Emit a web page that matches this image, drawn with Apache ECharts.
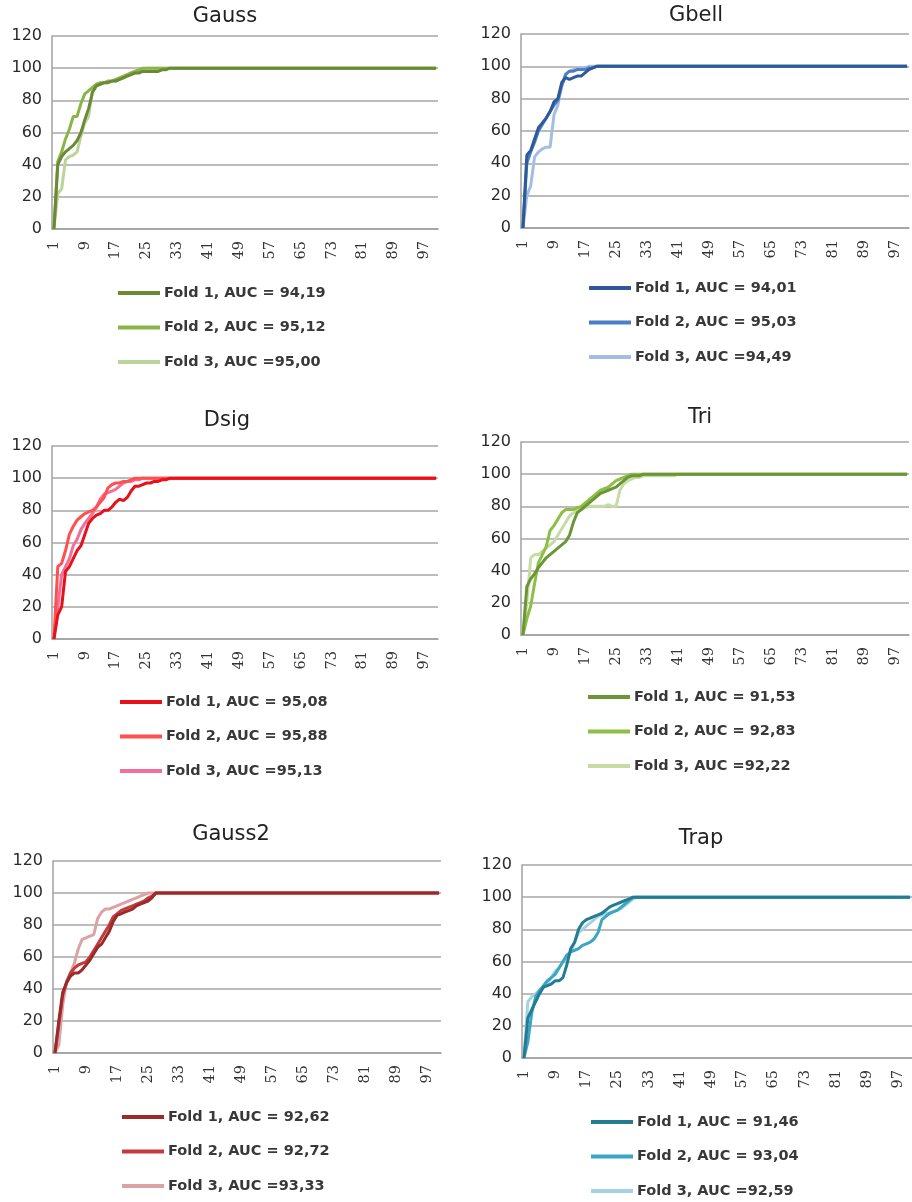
<!DOCTYPE html>
<html>
<head>
<meta charset="utf-8">
<script src="https://cdn.jsdelivr.net/npm/echarts@6/dist/echarts.min.js"></script>
<style>
html,body{margin:0;padding:0;background:#fff;}
#c{width:912px;height:1202px;}
</style>
</head>
<body>
<div id="c"></div>
<script>
// ---------- DATA ----------
var categories = [1,2,3,4,5,6,7,8,9,10,11,12,13,14,15,16,17,18,19,20,21,22,23,24,25,26,27,28,29,30,31,32,33,34,35,36,37,38,39,40,41,42,43,44,45,46,47,48,49,50,51,52,53,54,55,56,57,58,59,60,61,62,63,64,65,66,67,68,69,70,71,72,73,74,75,76,77,78,79,80,81,82,83,84,85,86,87,88,89,90,91,92,93,94,95,96,97,98,99,100];
var yTicks = [0,20,40,60,80,100,120];
var panelTitles = ['Gauss','Gbell','Dsig','Tri','Gauss2','Trap'];

var gaussNames = ['Fold 1, AUC = 94,19','Fold 2, AUC = 95,12','Fold 3, AUC =95,00'];
var gaussFold1 = [0,40,45,48,50,52,55,60,68,75, 85,89,90,91,91,92,92,93,94,95, 96,97,97,98,98,98,98,98,99,99, 100,100,100,100,100,100,100,100,100,100, 100,100,100,100,100,100,100,100,100,100, 100,100,100,100,100,100,100,100,100,100, 100,100,100,100,100,100,100,100,100,100, 100,100,100,100,100,100,100,100,100,100, 100,100,100,100,100,100,100,100,100,100, 100,100,100,100,100,100,100,100,100,100];
var gaussFold2 = [0,42,48,56,62,70,70,78,84,86, 88,90,91,91,92,92,93,94,95,96, 97,98,99,100,100,100,100,100,100,100, 100,100,100,100,100,100,100,100,100,100, 100,100,100,100,100,100,100,100,100,100, 100,100,100,100,100,100,100,100,100,100, 100,100,100,100,100,100,100,100,100,100, 100,100,100,100,100,100,100,100,100,100, 100,100,100,100,100,100,100,100,100,100, 100,100,100,100,100,100,100,100,100,100];
var gaussFold3 = [0,22,25,43,45,46,48,58,66,70, 87,89,90,91,91,92,92,93,94,96, 97,98,99,99,100,100,100,100,100,100, 100,100,100,100,100,100,100,100,100,100, 100,100,100,100,100,100,100,100,100,100, 100,100,100,100,100,100,100,100,100,100, 100,100,100,100,100,100,100,100,100,100, 100,100,100,100,100,100,100,100,100,100, 100,100,100,100,100,100,100,100,100,100, 100,100,100,100,100,100,100,100,100,100];

var gbellNames = ['Fold 1, AUC = 94,01','Fold 2, AUC = 95,03','Fold 3, AUC =94,49'];
var gbellFold1 = [0,45,48,55,62,65,68,72,78,80, 90,93,92,93,94,94,96,98,99,100, 100,100,100,100,100,100,100,100,100,100, 100,100,100,100,100,100,100,100,100,100, 100,100,100,100,100,100,100,100,100,100, 100,100,100,100,100,100,100,100,100,100, 100,100,100,100,100,100,100,100,100,100, 100,100,100,100,100,100,100,100,100,100, 100,100,100,100,100,100,100,100,100,100, 100,100,100,100,100,100,100,100,100,100];
var gbellFold2 = [0,40,47,53,60,64,68,72,76,79, 88,95,97,97,98,98,98,99,99,100, 100,100,100,100,100,100,100,100,100,100, 100,100,100,100,100,100,100,100,100,100, 100,100,100,100,100,100,100,100,100,100, 100,100,100,100,100,100,100,100,100,100, 100,100,100,100,100,100,100,100,100,100, 100,100,100,100,100,100,100,100,100,100, 100,100,100,100,100,100,100,100,100,100, 100,100,100,100,100,100,100,100,100,100];
var gbellFold3 = [0,20,26,44,47,49,50,50,70,76, 88,95,97,98,98,99,99,100,100,100, 100,100,100,100,100,100,100,100,100,100, 100,100,100,100,100,100,100,100,100,100, 100,100,100,100,100,100,100,100,100,100, 100,100,100,100,100,100,100,100,100,100, 100,100,100,100,100,100,100,100,100,100, 100,100,100,100,100,100,100,100,100,100, 100,100,100,100,100,100,100,100,100,100, 100,100,100,100,100,100,100,100,100,100];

var dsigNames = ['Fold 1, AUC = 95,08','Fold 2, AUC = 95,88','Fold 3, AUC =95,13'];
var dsigFold1 = [0,15,20,42,45,50,55,58,65,72, 75,77,78,80,80,82,85,87,86,88, 92,95,95,96,97,97,98,98,99,99, 100,100,100,100,100,100,100,100,100,100, 100,100,100,100,100,100,100,100,100,100, 100,100,100,100,100,100,100,100,100,100, 100,100,100,100,100,100,100,100,100,100, 100,100,100,100,100,100,100,100,100,100, 100,100,100,100,100,100,100,100,100,100, 100,100,100,100,100,100,100,100,100,100];
var dsigFold2 = [0,45,47,55,65,70,74,76,78,79, 80,82,85,88,94,96,97,97,98,98, 99,100,100,100,100,100,100,100,100,100, 100,100,100,100,100,100,100,100,100,100, 100,100,100,100,100,100,100,100,100,100, 100,100,100,100,100,100,100,100,100,100, 100,100,100,100,100,100,100,100,100,100, 100,100,100,100,100,100,100,100,100,100, 100,100,100,100,100,100,100,100,100,100, 100,100,100,100,100,100,100,100,100,100];
var dsigFold3 = [0,20,40,45,50,58,62,68,72,75, 78,82,87,90,91,92,93,95,97,98, 98,99,99,100,100,100,100,100,100,100, 100,100,100,100,100,100,100,100,100,100, 100,100,100,100,100,100,100,100,100,100, 100,100,100,100,100,100,100,100,100,100, 100,100,100,100,100,100,100,100,100,100, 100,100,100,100,100,100,100,100,100,100, 100,100,100,100,100,100,100,100,100,100, 100,100,100,100,100,100,100,100,100,100];

var triNames = ['Fold 1, AUC = 91,53','Fold 2, AUC = 92,83','Fold 3, AUC =92,22'];
var triFold1 = [0,30,35,38,42,45,48,50,52,54, 56,58,62,70,76,78,80,82,84,86, 88,89,90,91,92,94,96,98,99,99, 99,100,100,100,100,100,100,100,100,100, 100,100,100,100,100,100,100,100,100,100, 100,100,100,100,100,100,100,100,100,100, 100,100,100,100,100,100,100,100,100,100, 100,100,100,100,100,100,100,100,100,100, 100,100,100,100,100,100,100,100,100,100, 100,100,100,100,100,100,100,100,100,100];
var triFold2 = [0,10,18,32,45,50,55,65,68,72, 76,78,78,78,79,80,82,84,86,88, 90,91,92,94,96,97,98,99,100,100, 100,100,100,100,100,100,100,100,100,100, 100,100,100,100,100,100,100,100,100,100, 100,100,100,100,100,100,100,100,100,100, 100,100,100,100,100,100,100,100,100,100, 100,100,100,100,100,100,100,100,100,100, 100,100,100,100,100,100,100,100,100,100, 100,100,100,100,100,100,100,100,100,100];
var triFold3 = [0,20,48,50,50,52,54,56,58,62, 66,70,74,76,77,78,79,80,80,80, 80,80,81,80,80,90,94,96,97,98, 98,99,99,99,99,99,99,99,99,99, 100,100,100,100,100,100,100,100,100,100, 100,100,100,100,100,100,100,100,100,100, 100,100,100,100,100,100,100,100,100,100, 100,100,100,100,100,100,100,100,100,100, 100,100,100,100,100,100,100,100,100,100, 100,100,100,100,100,100,100,100,100,100];

var gauss2Names = ['Fold 1, AUC = 92,62','Fold 2, AUC = 92,72','Fold 3, AUC =93,33'];
var gauss2Fold1 = [0,20,38,44,48,50,50,52,55,58, 62,66,68,72,76,82,86,87,88,89, 90,92,93,94,95,97,100,100,100,100, 100,100,100,100,100,100,100,100,100,100, 100,100,100,100,100,100,100,100,100,100, 100,100,100,100,100,100,100,100,100,100, 100,100,100,100,100,100,100,100,100,100, 100,100,100,100,100,100,100,100,100,100, 100,100,100,100,100,100,100,100,100,100, 100,100,100,100,100,100,100,100,100,100];
var gauss2Fold2 = [0,18,36,44,50,53,55,56,57,60, 64,68,72,76,80,85,87,89,90,91, 92,93,94,95,97,98,100,100,100,100, 100,100,100,100,100,100,100,100,100,100, 100,100,100,100,100,100,100,100,100,100, 100,100,100,100,100,100,100,100,100,100, 100,100,100,100,100,100,100,100,100,100, 100,100,100,100,100,100,100,100,100,100, 100,100,100,100,100,100,100,100,100,100, 100,100,100,100,100,100,100,100,100,100];
var gauss2Fold3 = [0,5,30,45,50,56,65,71,72,73, 74,84,88,90,90,91,92,93,94,95, 96,97,98,99,100,100,100,100,100,100, 100,100,100,100,100,100,100,100,100,100, 100,100,100,100,100,100,100,100,100,100, 100,100,100,100,100,100,100,100,100,100, 100,100,100,100,100,100,100,100,100,100, 100,100,100,100,100,100,100,100,100,100, 100,100,100,100,100,100,100,100,100,100, 100,100,100,100,100,100,100,100,100,100];

var trapNames = ['Fold 1, AUC = 91,46','Fold 2, AUC = 93,04','Fold 3, AUC =92,59'];
var trapFold1 = [0,25,30,35,40,44,45,46,48,48, 50,58,68,72,80,84,86,87,88,89, 90,92,94,95,96,97,98,99,100,100, 100,100,100,100,100,100,100,100,100,100, 100,100,100,100,100,100,100,100,100,100, 100,100,100,100,100,100,100,100,100,100, 100,100,100,100,100,100,100,100,100,100, 100,100,100,100,100,100,100,100,100,100, 100,100,100,100,100,100,100,100,100,100, 100,100,100,100,100,100,100,100,100,100];
var trapFold2 = [0,10,28,38,42,45,48,50,52,56, 60,64,66,67,68,70,71,72,74,78, 86,88,90,91,92,94,96,98,100,100, 100,100,100,100,100,100,100,100,100,100, 100,100,100,100,100,100,100,100,100,100, 100,100,100,100,100,100,100,100,100,100, 100,100,100,100,100,100,100,100,100,100, 100,100,100,100,100,100,100,100,100,100, 100,100,100,100,100,100,100,100,100,100, 100,100,100,100,100,100,100,100,100,100];
var trapFold3 = [0,35,38,40,42,44,46,50,54,56, 60,62,66,72,78,80,82,84,86,88, 89,90,90,91,92,93,95,97,99,100, 100,100,100,100,100,100,100,100,100,100, 100,100,100,100,100,100,100,100,100,100, 100,100,100,100,100,100,100,100,100,100, 100,100,100,100,100,100,100,100,100,100, 100,100,100,100,100,100,100,100,100,100, 100,100,100,100,100,100,100,100,100,100, 100,100,100,100,100,100,100,100,100,100];

// ---------- LAYOUT / STYLE ----------
var panels = [
  {names: gaussNames,  data: [gaussFold1, gaussFold2, gaussFold3],   colors: ['#6a8a36','#89b548','#bcd39a'],
   grid: {left:52, top:36, width:386, height:193}, title: [225,17], legend: [118,285]},
  {names: gbellNames,  data: [gbellFold1, gbellFold2, gbellFold3],   colors: ['#2e5a97','#4a7ec8','#a4bde2'],
   grid: {left:521, top:34, width:388, height:194}, title: [696,16], legend: [589,280]},
  {names: dsigNames,   data: [dsigFold1, dsigFold2, dsigFold3],      colors: ['#e8101a','#ff4f4f','#f36e98'],
   grid: {left:52, top:446, width:386, height:193}, title: [227,421], legend: [120,694]},
  {names: triNames,    data: [triFold1, triFold2, triFold3],         colors: ['#6b9536','#8dbf45','#c6dba6'],
   grid: {left:521, top:442, width:388, height:193}, title: [700,418], legend: [588,689]},
  {names: gauss2Names, data: [gauss2Fold1, gauss2Fold2, gauss2Fold3],colors: ['#9b2b2b','#c53b3d','#dba3a3'],
   grid: {left:53, top:861, width:388, height:192}, title: [231,835], legend: [122,1109]},
  {names: trapNames,   data: [trapFold1, trapFold2, trapFold3],      colors: ['#237c92','#3aa5c5','#a3d2e2'],
   grid: {left:522, top:865, width:390, height:193}, title: [701,839], legend: [591,1114]}
];

var option = {
  animation: false,
  backgroundColor: '#ffffff',
  title: [], legend: [], grid: [], xAxis: [], yAxis: [], series: []
};

panels.forEach(function (p, i) {
  option.title.push({
    text: panelTitles[i], left: p.title[0], top: p.title[1] - 11, textAlign: 'center', padding: 0,
    textStyle: {fontFamily: 'DejaVu Sans', fontSize: 21, fontWeight: 'normal', color: '#222', lineHeight: 22}
  });
  option.legend.push({
    data: p.names, orient: 'vertical', left: p.legend[0], top: p.legend[1], padding: 0,
    itemGap: 18.5, itemWidth: 42, itemHeight: 4, icon: 'rect', selectedMode: false,
    textStyle: {fontFamily: 'DejaVu Sans', fontSize: 14.5, fontWeight: 'bold', color: '#383838', lineHeight: 16, padding: [0,0,0,-1]}
  });
  option.grid.push({left: p.grid.left, top: p.grid.top, width: p.grid.width, height: p.grid.height, containLabel: false});
  option.xAxis.push({
    type: 'category', gridIndex: i, data: categories, boundaryGap: true,
    axisLine: {show: true, lineStyle: {color: '#a0a0a0', width: 1.5}},
    axisTick: {show: false},
    splitLine: {show: false},
    axisLabel: {interval: 7, rotate: 90, margin: 12, fontFamily: 'DejaVu Serif', fontSize: 14.5, color: '#333'}
  });
  option.yAxis.push({
    type: 'value', gridIndex: i, min: yTicks[0], max: yTicks[yTicks.length - 1], interval: 20,
    axisLine: {show: true, lineStyle: {color: '#a0a0a0', width: 1.5}},
    axisTick: {show: false},
    splitLine: {show: true, lineStyle: {color: '#a6a6a6', width: 1.5}},
    axisLabel: {margin: 10, fontFamily: 'DejaVu Sans', fontSize: 16, color: '#2a2a2a'}
  });
  for (var k = 0; k < 3; k++) {
    option.series.push({
      type: 'line', name: p.names[k], xAxisIndex: i, yAxisIndex: i, data: p.data[k],
      showSymbol: false, symbol: 'none', smooth: false,
      lineStyle: {color: p.colors[k], width: 3}, itemStyle: {color: p.colors[k]},
      z: 10 - k
    });
  }
});

var chart = echarts.init(document.getElementById('c'), null, {renderer: 'canvas'});
chart.setOption(option);
</script>
</body>
</html>
